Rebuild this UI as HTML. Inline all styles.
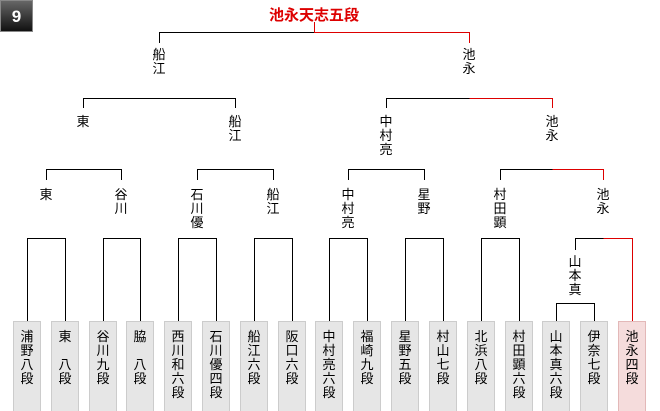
<!DOCTYPE html>
<html><head><meta charset="utf-8"><style>
body{margin:0;width:660px;height:410px;background:#fff;position:relative;overflow:hidden;font-family:"Liberation Sans","Noto Sans CJK JP",sans-serif;}
.v{position:absolute;width:20px;margin-left:-10px;text-align:center;font-size:13px;line-height:14px;color:#000;}
.b{position:absolute;top:321px;width:26px;height:89px;margin-left:-14px;background:#e6e6e6;border:1px solid #ccc;border-bottom:none;}
.b div{position:absolute;top:8px;left:0;width:26px;text-align:center;font-size:13px;line-height:14px;}
.p{background:#f5dcdc;border-color:#e3b8b8;}
#badge{position:absolute;left:0;top:0;width:31px;height:30px;background:linear-gradient(#666,#111);border:1px solid #888;color:#fff;font-weight:bold;font-size:17px;text-align:center;line-height:31px;}
#title{position:absolute;left:214px;width:200px;top:4px;text-align:center;color:#d00;font-weight:bold;font-size:15px;}
svg{position:absolute;left:0;top:0;}
</style></head><body>
<div id="badge">9</div>
<div id="title">池永天志五段</div>
<svg width="660" height="410" shape-rendering="crispEdges" fill="none" stroke-width="1">
<g stroke="#000">
<path d="M27.5 321V238.5H65.5V321M103.5 321V238.5H140.5V321M178.5 321V238.5H216.5V321M254.5 321V238.5H292.5V321M329.5 321V238.5H367.5V321M405.5 321V238.5H443.5V321M481.5 321V238.5H519.5V321"/>
<path d="M556.5 321V303.5H594.5V321M575.5 250V238.5H603.5"/>
<path d="M46.5 180V169.5H121.5V180M197.5 180V169.5H273.5V180M348.5 180V169.5H424.5V180M500.5 180V169.5H552.5"/>
<path d="M83.5 108V98.5H235.5V108M386.5 108V98.5H469.5"/>
<path d="M159.5 43V32.5H314.5"/>
</g>
<g stroke="#d00">
<path d="M603.5 238.5H632.5V321"/>
<path d="M552.5 169.5H603.5V180"/>
<path d="M469.5 98.5H552.5V108"/>
<path d="M314.5 22V32.5H469.5V43"/>
</g>
</svg>
<div class="v" style="left:159px;top:48px">船<br>江</div>
<div class="v" style="left:469px;top:48px">池<br>永</div>
<div class="v" style="left:83px;top:115px">東</div>
<div class="v" style="left:235px;top:115px">船<br>江</div>
<div class="v" style="left:386px;top:115px">中<br>村<br>亮</div>
<div class="v" style="left:552px;top:115px">池<br>永</div>
<div class="v" style="left:46px;top:188px">東</div>
<div class="v" style="left:121px;top:188px">谷<br>川</div>
<div class="v" style="left:197px;top:188px">石<br>川<br>優</div>
<div class="v" style="left:273px;top:188px">船<br>江</div>
<div class="v" style="left:348px;top:188px">中<br>村<br>亮</div>
<div class="v" style="left:424px;top:188px">星<br>野</div>
<div class="v" style="left:500px;top:188px">村<br>田<br>顕</div>
<div class="v" style="left:603px;top:188px">池<br>永</div>
<div class="v" style="left:575px;top:255px">山<br>本<br>真</div>
<div class="b" style="left:27px"><div>浦<br>野<br>八<br>段</div></div>
<div class="b" style="left:65px"><div>東<br>&nbsp;<br>八<br>段</div></div>
<div class="b" style="left:103px"><div>谷<br>川<br>九<br>段</div></div>
<div class="b" style="left:140px"><div>脇<br>&nbsp;<br>八<br>段</div></div>
<div class="b" style="left:178px"><div>西<br>川<br>和<br>六<br>段</div></div>
<div class="b" style="left:216px"><div>石<br>川<br>優<br>四<br>段</div></div>
<div class="b" style="left:254px"><div>船<br>江<br>六<br>段</div></div>
<div class="b" style="left:292px"><div>阪<br>口<br>六<br>段</div></div>
<div class="b" style="left:329px"><div>中<br>村<br>亮<br>六<br>段</div></div>
<div class="b" style="left:367px"><div>福<br>崎<br>九<br>段</div></div>
<div class="b" style="left:405px"><div>星<br>野<br>五<br>段</div></div>
<div class="b" style="left:443px"><div>村<br>山<br>七<br>段</div></div>
<div class="b" style="left:481px"><div>北<br>浜<br>八<br>段</div></div>
<div class="b" style="left:519px"><div>村<br>田<br>顕<br>六<br>段</div></div>
<div class="b" style="left:556px"><div>山<br>本<br>真<br>六<br>段</div></div>
<div class="b" style="left:594px"><div>伊<br>奈<br>七<br>段</div></div>
<div class="b p" style="left:632px"><div>池<br>永<br>四<br>段</div></div>
</body></html>
